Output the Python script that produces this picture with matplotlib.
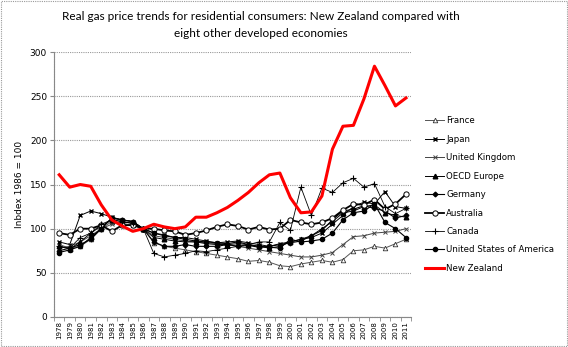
import matplotlib
matplotlib.use('Agg')
from matplotlib import pyplot as plt
from matplotlib.patches import Rectangle
import numpy as np

years = list(range(1978, 2012))

france = [82, 78, 80, 88, 100, 108, 106, 104, 100, 84, 80, 78, 76, 74, 72, 70, 68, 66, 63, 64,
          62, 58, 57, 60, 62, 64, 62, 65, 75, 76, 80, 78, 83, 88]
japan = [85, 82, 115, 120, 117, 113, 110, 108, 100, 95, 93, 90, 90, 88, 86, 84, 85, 86, 84, 82,
         80, 83, 85, 88, 90, 95, 105, 115, 125, 130, 128, 142, 125, 123]
united_kingdom = [78, 80, 85, 92, 100, 105, 108, 106, 100, 92, 90, 88, 86, 85, 84, 83, 82, 80, 78, 76,
                  74, 72, 70, 68, 68, 70, 73, 82, 91, 92, 95, 96, 97, 100]
oecd_europe = [80, 77, 85, 95, 103, 110, 108, 106, 100, 90, 88, 86, 85, 85, 83, 82, 82, 83, 82, 80,
               78, 80, 85, 88, 92, 100, 108, 118, 120, 125, 127, 118, 115, 113]
germany = [75, 78, 82, 88, 100, 112, 110, 108, 100, 85, 80, 80, 82, 80, 80, 80, 82, 80, 81, 79,
           80, 82, 84, 86, 92, 98, 110, 120, 122, 126, 123, 120, 112, 115]
australia = [95, 93, 100, 100, 104, 97, 104, 104, 100, 100, 98, 97, 93, 95, 98, 102, 105, 103, 99, 102,
             99, 100, 110, 107, 105, 107, 112, 121, 128, 127, 133, 122, 128, 139]
canada = [80, 78, 90, 95, 105, 110, 108, 106, 100, 72, 68, 70, 72, 75, 74, 76, 78, 80, 82, 85,
          85, 107, 98, 147, 115, 146, 141, 152, 157, 147, 151, 125, 117, 123]
usa = [73, 76, 80, 90, 100, 112, 110, 108, 100, 95, 92, 90, 88, 86, 85, 84, 83, 85, 82, 80,
       79, 78, 88, 85, 86, 88, 95, 110, 118, 120, 128, 107, 100, 90]
new_zealand = [161, 147, 150, 148, 127, 110, 103, 97, 100, 105, 102, 100, 102, 113, 113, 118, 124, 132, 141, 152,
               161, 163, 135, 118, 119, 137, 190, 216, 217, 247, 284, 262, 239, 248]

x = np.arange(len(years))

fig = plt.figure(figsize=(5.68, 3.47), dpi=100)
ax = fig.add_axes([0.095, 0.0865, 0.629, 0.7635])

ax.plot(x, france, color='#555555', lw=0.7, marker='^', ms=3.3, mfc='white', mec='#333333', mew=0.6, label='France')
ax.plot(x, japan, color='black', lw=0.7, marker='x', ms=3.3, mew=1.0, label='Japan')
ax.plot(x, united_kingdom, color='#444444', lw=0.7, marker='x', ms=3.3, mew=0.7, label='United Kingdom')
ax.plot(x, oecd_europe, color='black', lw=0.7, marker='^', ms=3.3, label='OECD Europe')
ax.plot(x, germany, color='black', lw=0.8, marker='D', ms=2.4, label='Germany')
ax.plot(x, australia, color='black', lw=1.3, marker='o', ms=3.8, mfc='white', mec='black', mew=0.7, label='Australia')
ax.plot(x, canada, color='black', lw=0.6, marker='+', ms=4, mew=0.8, label='Canada')
ax.plot(x, usa, color='black', lw=0.8, marker='o', ms=3.0, label='United States of America')
ax.plot(x, new_zealand, color='red', lw=2.2, label='New Zealand')

ax.set_xlim(-0.5, len(years) - 0.5)
ax.set_ylim(0, 300)
ax.set_yticks(range(0, 301, 50))
ax.set_xticks(x)
ax.set_xticklabels([str(y) for y in years], rotation=90, fontsize=5.0)
ax.set_xticks(np.arange(-0.5, len(years), 1), minor=True)
ax.tick_params(axis='x', which='major', length=0, pad=3)
ax.tick_params(axis='x', which='minor', length=3, color='#888888')
ax.tick_params(axis='y', labelsize=6.5, length=3, color='#888888', pad=2)
ax.yaxis.grid(True, color='#999999', linestyle=(0, (1, 1)), lw=0.8)
ax.set_axisbelow(True)
for side in ['top', 'right']:
    ax.spines[side].set_visible(False)
for side in ['left', 'bottom']:
    ax.spines[side].set_color('#888888')
    ax.spines[side].set_linestyle((0, (1, 0.5)))
    ax.spines[side].set_linewidth(0.8)

ax.set_ylabel('Inbdex 1986 = 100', fontsize=6.5, labelpad=4)

leg = ax.legend(loc='upper left', bbox_to_anchor=(1.03, 0.771), frameon=False, fontsize=6.2,
                handlelength=2.2, handletextpad=0.2, labelspacing=1.1, borderaxespad=0)

fig.text(0.46, 0.953, 'Real gas price trends for residential consumers: New Zealand compared with',
         ha='center', va='center', fontsize=8.5, family='Lato')
fig.text(0.46, 0.903, 'eight other developed economies', ha='center', va='center', fontsize=8.5, family='Lato')

fig.patches.append(Rectangle((0.002, 0.003), 0.996, 0.994, transform=fig.transFigure, fill=False,
                             edgecolor='#999999', lw=0.8, linestyle=(0, (1, 1))))

fig.savefig('out.png', dpi=100)
